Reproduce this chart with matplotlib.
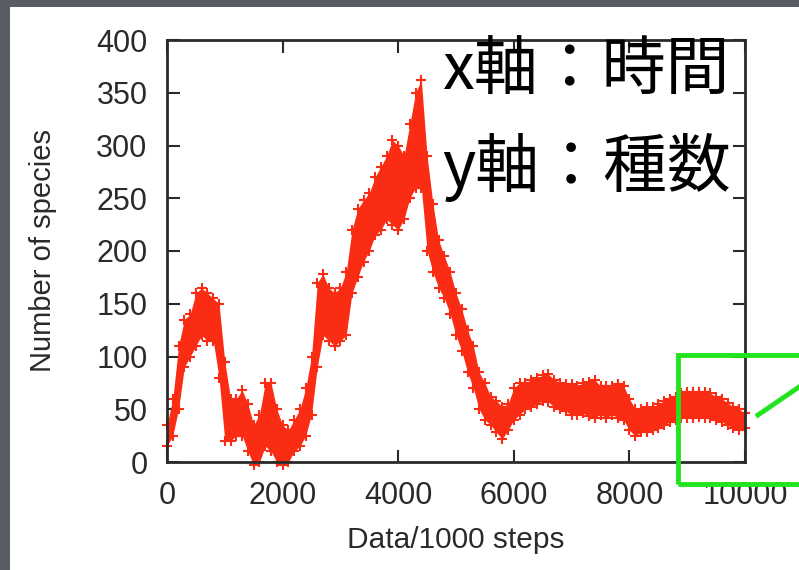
import matplotlib.pyplot as plt
from matplotlib.patches import Rectangle
from matplotlib.lines import Line2D

# data: lower / upper edge of the noisy band
steps = [0, 100, 200, 300, 400, 500, 600, 700, 800, 900,
         1000, 1100, 1200, 1300, 1400, 1500, 1600, 1700, 1800, 1900,
         2000, 2100, 2200, 2300, 2400, 2500, 2600, 2700, 2800, 2900,
         3000, 3100, 3200, 3300, 3400, 3500, 3600, 3700, 3800, 3900,
         4000, 4100, 4200, 4300, 4400, 4500, 4600, 4700, 4800, 4900,
         5000, 5100, 5200, 5300, 5400, 5500, 5600, 5700, 5800, 5900,
         6000, 6100, 6200, 6300, 6400, 6500, 6600, 6700, 6800, 6900,
         7000, 7100, 7200, 7300, 7400, 7500, 7600, 7700, 7800, 7900,
         8000, 8100, 8200, 8300, 8400, 8500, 8600, 8700, 8800, 8900,
         9000, 9100, 9200, 9300, 9400, 9500, 9600, 9700, 9800, 9900, 10000]
species_low = [15, 25, 50, 90, 100, 110, 120, 115, 115, 80,
               20, 20, 25, 25, 10, -3, 0, 15, 10, 0,
               -3, 0, 10, 15, 25, 45, 90, 120, 115, 110,
               115, 120, 160, 175, 190, 200, 215, 220, 230, 225,
               220, 230, 250, 260, 260, 200, 180, 165, 155, 140,
               120, 105, 85, 70, 50, 40, 35, 28, 22, 30,
               40, 45, 50, 52, 55, 58, 57, 52, 50, 48,
               45, 45, 46, 44, 42, 45, 42, 45, 42, 40,
               30, 25, 28, 28, 30, 32, 35, 38, 40, 42,
               42, 42, 43, 42, 42, 40, 38, 35, 32, 30, 32]
species_high = [35, 60, 110, 135, 140, 160, 165, 160, 155, 150,
                95, 60, 60, 68, 55, 35, 45, 75, 75, 50,
                35, 30, 40, 50, 70, 100, 170, 178, 165, 160,
                165, 180, 220, 240, 248, 255, 270, 280, 290, 305,
                300, 290, 320, 350, 362, 290, 245, 210, 195, 180,
                160, 145, 125, 110, 85, 75, 62, 58, 52, 55,
                70, 75, 75, 78, 80, 82, 83, 78, 75, 74,
                74, 72, 75, 76, 78, 72, 72, 72, 74, 72,
                60, 50, 50, 52, 52, 55, 58, 60, 62, 65,
                66, 66, 66, 66, 65, 62, 60, 56, 52, 50, 46]

x_ticks = [0, 2000, 4000, 6000, 8000, 10000]
y_ticks = [0, 50, 100, 150, 200, 250, 300, 350, 400]

red = '#fa2d14'
green = '#22e41e'
ink = '#2a2a2a'

fig = plt.figure(figsize=(7.99, 5.70), dpi=100)
fig.patch.set_facecolor('#5a5c64')
# white slide panel
fig.add_artist(Rectangle((10 / 799, 0), 1, 1 - 7 / 570, transform=fig.transFigure,
                         facecolor='white', edgecolor='none', zorder=0))

ax = fig.add_axes([167 / 799, 1 - 462 / 570, 578 / 799, 422 / 570])
ax.set_facecolor('white')

ax.fill_between(steps, species_low, species_high, color=red, linewidth=0, zorder=2)
ax.plot(steps, species_low, '+', color=red, markersize=7, mew=1.5, zorder=2, clip_on=False)
ax.plot(steps, species_high, '+', color=red, markersize=7, mew=1.5, zorder=2, clip_on=False)

ax.set_xlim(0, 10000)
ax.set_ylim(0, 400)
ax.set_xticks(x_ticks)
ax.set_yticks(y_ticks)
ax.tick_params(direction='in', length=9, width=1.5, color=ink,
               top=True, right=True, labelsize=22, labelcolor=ink, pad=14)
for lab in ax.get_xticklabels() + ax.get_yticklabels():
    lab.set_family('Liberation Sans')
for s in ax.spines.values():
    s.set_linewidth(2)
    s.set_color(ink)
    s.set_zorder(3)

ax.set_xlabel('Data/1000 steps', fontsize=21.5, family='Liberation Sans', color=ink)
ax.set_ylabel('Number of species', fontsize=21, family='Liberation Sans', color=ink)
ax.xaxis.set_label_coords(0.5, (462 - 540) / 422)
ax.xaxis.label.set_verticalalignment('center')
ax.yaxis.set_label_coords((43 - 167) / 578, 0.5)
ax.yaxis.label.set_verticalalignment('center')

jp = ['Noto Sans CJK JP', 'DejaVu Sans']
fig.text(442 / 799, 1 - 72 / 570, 'x軸：時間', fontsize=46, family=jp, color='black',
         va='center', ha='left')
fig.text(442 / 799, 1 - 168 / 570, 'y軸：種数', fontsize=46, family=jp, color='black',
         va='center', ha='left')

# green highlight box and pointer
fig.add_artist(Rectangle((678 / 799, 1 - 484 / 570), 140 / 799, 129 / 570,
                         transform=fig.transFigure, fill=False, edgecolor=green,
                         linewidth=3.5, zorder=5))
fig.add_artist(Line2D([758 / 799, 1.0], [1 - 415 / 570, 1 - 387 / 570],
                      transform=fig.transFigure, color=green, linewidth=3.5, zorder=5))

plt.savefig('out.png', dpi=100, facecolor=fig.get_facecolor())
